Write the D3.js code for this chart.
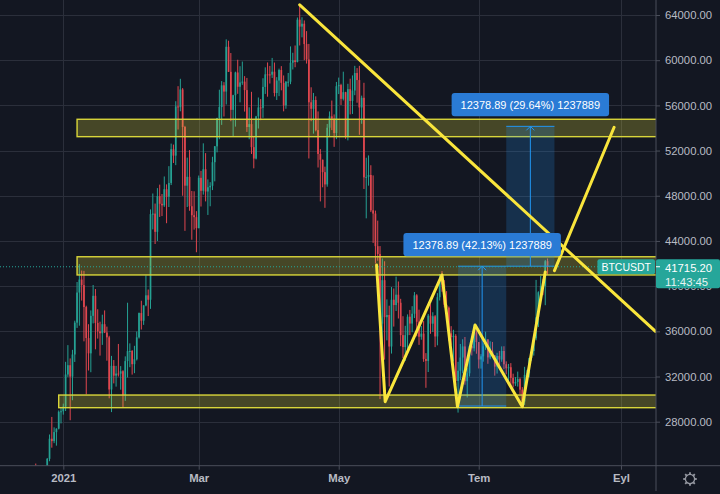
<!DOCTYPE html>
<html>
<head>
<meta charset="utf-8">
<script src="https://cdn.jsdelivr.net/npm/d3@7"></script>
<style>
  html, body { margin: 0; padding: 0; background: #131722; }
  svg { display: block; }
  text { font-family: "Liberation Sans", Arial, sans-serif; }
</style>
</head>
<body>
<svg id="chart" width="720" height="494"></svg>
<script>
// ---- BTCUSDT daily candles, 2020-12-20 .. 2021-07-31 ----
const firstDay = "2020-12-20";

const opens = [
  23821, 23455, 22719, 23810, 23232, 23729, 24712, 26493, 26281, 27079, 27385, 28876,
  28924, 29332, 32178, 33000, 31988, 33949, 36769, 39432, 40582, 40088, 38150, 35404, 34051, 37371, 39144, 36742, 35994, 35828, 36631, 35891, 35468, 30850, 32945, 32078, 32259, 32254, 32467, 30366, 33364, 34252, 34262,
  33092, 33526, 35466, 37618, 36936, 38290, 39186, 38795, 46374, 46420, 44807, 47969, 47287, 47153, 48577, 47911, 49133, 52119, 51552, 55906, 55841, 57409, 54087, 48891, 49676, 47073, 46277, 46106,
  45135, 49587, 48440, 50349, 48374, 48751, 48882, 50971, 52375, 54884, 55851, 57773, 57221, 61188, 58968, 55605, 56900, 58912, 57648, 58030, 58102, 57351, 54083, 54340, 52303, 51293, 55025, 55817, 55777, 57635, 58746,
  58740, 58720, 58981, 57095, 58202, 59129, 57991, 56000, 58088, 58094, 59778, 59985, 59839, 63588, 62971, 63229, 61427, 60059, 56274, 55696, 56474, 53807, 51701, 51187, 50089, 49004, 54021, 55033, 54824, 53555,
  57697, 57797, 56578, 57169, 53200, 57436, 56393, 57314, 58862, 58240, 55816, 56670, 49631, 49670, 49841, 46708, 46426, 43538, 42849, 36671, 40527, 37252, 37449, 34655, 38796, 38324, 39241, 38529, 35663, 34606, 35658,
  37294, 36687, 37555, 39187, 36851, 35520, 35796, 33552, 33380, 37388, 36675, 37331, 35546, 39020, 40516, 40144, 38349, 38092, 35820, 35483, 35600, 31608, 32509, 33679, 34663, 31584, 32283, 34700, 34494, 35911,
  35045, 33504, 33787, 34669, 35287, 33690, 34220, 33863, 32875, 33815, 33502, 34259, 33086, 32730, 32820, 31880, 31384, 31521, 31778, 30839, 29790, 32145, 32288, 33634, 34259, 35382, 37250, 39457, 40019, 40016, 42206
];

const highs = [
  24295, 24102, 23837, 24100, 23794, 24789, 26867, 28422, 27500, 27410, 28996, 29300,
  29600, 33300, 34778, 33600, 34360, 36939, 40365, 41950, 41380, 41350, 38264, 36628, 37850, 40100, 39747, 37950, 36852, 37469, 37850, 36415, 35600, 33826, 33456, 32944, 34880, 32921, 32557, 33783, 38531, 34933, 34342,
  34717, 35984, 37662, 38708, 38310, 40955, 39700, 46794, 48200, 47310, 48678, 48985, 48150, 49707, 49010, 50620, 52618, 52530, 56368, 57700, 58352, 57533, 54183, 51374, 52040, 48424, 48395, 46638,
  49790, 50200, 52640, 51773, 49448, 49200, 51450, 52402, 54900, 57387, 58150, 58058, 61844, 61724, 60633, 56938, 58982, 60040, 59468, 59880, 58589, 58430, 55830, 57200, 53230, 55073, 56700, 56559, 58400, 59368, 59800,
  59490, 60200, 59791, 58500, 59251, 59474, 58650, 58153, 58869, 61220, 60658, 61300, 63777, 64854, 63800, 63520, 62572, 61440, 57600, 57100, 56800, 55466, 52130, 51200, 50576, 54356, 55460, 56428, 55200, 58075,
  58458, 57911, 58981, 57200, 57911, 58360, 58650, 59500, 59300, 59500, 56862, 58000, 51367, 51569, 50700, 49800, 46686, 45800, 43546, 42451, 42200, 38829, 38270, 39920, 39791, 40841, 40411, 38877, 37338, 36488, 37499,
  37894, 38225, 39476, 39289, 37917, 36480, 36900, 34069, 37534, 38400, 37690, 37437, 39380, 41064, 41330, 40528, 39559, 38200, 36457, 36137, 35750, 33298, 34881, 35298, 35500, 32730, 34749, 35297, 36600, 36100,
  35057, 33977, 34951, 35967, 35293, 35118, 35059, 33909, 34100, 34262, 34666, 34679, 33340, 33114, 33185, 32250, 31950, 32435, 31899, 31063, 32858, 32591, 33650, 34500, 35398, 40550, 39542, 40900, 40640, 42316, 42448
];

const lows = [
  23060, 21815, 22353, 22600, 22703, 23400, 24500, 25700, 26101, 25880, 27320, 27850,
  28625, 28947, 31963, 28130, 29900, 33288, 36300, 36500, 38720, 35111, 30420, 32531, 32380, 36701, 34408, 35357, 33850, 34800, 35844, 33400, 30071, 28850, 31390, 31106, 32000, 30837, 29241, 29842, 31915, 32825, 32171,
  32296, 33418, 35362, 36161, 36570, 38216, 37351, 37988, 45020, 43727, 43994, 46125, 46202, 47014, 45570, 47003, 48947, 50901, 50710, 53863, 55477, 48000, 44892, 47003, 46674, 44106, 45000, 43000,
  45115, 47047, 48100, 47500, 46300, 47070, 48500, 49274, 51841, 53005, 54272, 55013, 56078, 58966, 54600, 53271, 54120, 57023, 56270, 57820, 55450, 53650, 53000, 51700, 50427, 51214, 53950, 54691, 54900, 57013, 56769,
  57935, 58428, 56789, 56478, 56817, 57333, 55473, 55700, 57654, 57877, 59177, 59374, 59805, 61301, 62021, 60000, 59700, 51300, 54600, 53500, 53700, 50500, 47500, 48750, 46930, 48800, 53222, 53813, 52330, 53012,
  57000, 56035, 56435, 53046, 52900, 55200, 55241, 56900, 56235, 53400, 54370, 48600, 46000, 48895, 46555, 43825, 42001, 42250, 30000, 34850, 33488, 35200, 31111, 34031, 36419, 37800, 37134, 34684, 33632, 33379, 34153,
  35667, 35920, 37171, 35555, 34800, 35257, 33300, 31000, 32396, 35782, 35944, 34601, 34758, 38731, 39506, 38116, 37365, 35129, 34803, 33336, 31251, 28805, 31683, 32286, 31275, 30151, 32000, 33862, 34225, 34017,
  32711, 32699, 33316, 34357, 33125, 33532, 33777, 32077, 32261, 33004, 33306, 32658, 32202, 31550, 31133, 31020, 31164, 31108, 30407, 29278, 29482, 31708, 31925, 33401, 33851, 35206, 36383, 38772, 39200, 38313, 41000
];

const closes = [
  23455, 22719, 23810, 23232, 23729, 24712, 26493, 26281, 27079, 27385, 28876, 28924,
  29332, 32178, 33000, 31988, 33949, 36769, 39432, 40582, 40088, 38150, 35404, 34051, 37371, 39144, 36742, 35994, 35828, 36631, 35891, 35468, 30850, 32945, 32078, 32259, 32254, 32467, 30366, 33364, 34252, 34262, 33092,
  33526, 35466, 37618, 36936, 38290, 39186, 38795, 46374, 46420, 44807, 47969, 47287, 47153, 48577, 47911, 49133, 52119, 51552, 55906, 55841, 57409, 54087, 48891, 49676, 47073, 46277, 46106, 45135,
  49587, 48440, 50349, 48374, 48751, 48882, 50971, 52375, 54884, 55851, 57773, 57221, 61188, 58968, 55605, 56900, 58912, 57648, 58030, 58102, 57351, 54083, 54340, 52303, 51293, 55025, 55817, 55777, 57635, 58746, 58740,
  58720, 58981, 57095, 58202, 59129, 57991, 56000, 58088, 58094, 59778, 59985, 59839, 63588, 62971, 63229, 61427, 60059, 56274, 55696, 56474, 53807, 51701, 51187, 50089, 49004, 54021, 55033, 54824, 53555, 57697,
  57797, 56578, 57169, 53200, 57436, 56393, 57314, 58862, 58240, 55816, 56670, 49631, 49670, 49841, 46708, 46426, 43538, 42849, 36671, 40527, 37252, 37449, 34655, 38796, 38324, 39241, 38529, 35663, 34606, 35658, 37294,
  36687, 37555, 39187, 36851, 35520, 35796, 33552, 33380, 37388, 36675, 37331, 35546, 39020, 40516, 40144, 38349, 38092, 35820, 35483, 35600, 31608, 32509, 33679, 34663, 31584, 32283, 34700, 34494, 35911, 35045,
  33504, 33787, 34669, 35287, 33690, 34220, 33863, 32875, 33815, 33502, 34259, 33086, 32730, 32820, 31880, 31384, 31521, 31778, 30839, 29790, 32145, 32288, 33634, 34259, 35382, 37250, 39457, 40019, 40016, 42206, 41715.20
];

// ---- axis ticks ----
const priceTicks = [28000, 32000, 36000, 40000, 44000, 48000, 52000, 56000, 60000, 64000];
const timeTickDates = ["2021-01-01", "2021-03-01", "2021-05-01", "2021-07-01", "2021-09-01"];
const timeTickLabels = ["2021", "Mar", "May", "Tem", "Eyl"];

// ---- support / resistance zones ----
const zoneFrom = ["2021-01-07", "2021-01-07", "2020-12-30"];
const zoneTo   = ["2021-10-31", "2021-10-31", "2021-10-31"];
const zoneLow  = [53230, 40990, 29240];
const zoneHigh = [54770, 42600, 30360];

// ---- trend lines ----
const trendDownDates  = ["2021-04-14", "2021-09-16"];
const trendDownPrices = [64900, 36000];
const zigzagDates  = ["2021-05-17T12:00Z", "2021-05-21T06:00Z", "2021-06-15", "2021-06-21T18:00Z", "2021-06-29T10:00Z", "2021-07-20", "2021-07-30"];
const zigzagPrices = [41870, 29770, 40990, 29330, 36560, 29330, 41250];
const breakoutDates  = ["2021-08-03", "2021-08-29"];
const breakoutPrices = [41370, 54060];

// ---- price range measurements ----
const rangeStart = ["2021-06-22", "2021-07-13"];
const rangeEnd   = ["2021-07-13", "2021-08-03"];
const rangeFrom  = [29385.22, 41764.11];
const rangeTo    = [41764.11, 54143.00];

// ---- last price ----
const symbol = "BTCUSDT";
const lastPrice = 41715.20;
const countdown = "11:43:45";

// ---- layout ----
const W = 720, H = 494;
const plotRight = 656, plotBottom = 465.7;
const C = {
  bg: "#131722", grid: "#2b2f3b", axis: "#4a4e5a", text: "#b8bbc4",
  up: "#25a193", down: "#e0474f",
  zoneFill: "rgba(235,225,60,0.24)", zoneStroke: "#d9d63a",
  yellow: "#f9e53c",
  rangeFill: "rgba(33,150,243,0.2)", rangeLine: "#2196f3", rangeLabel: "#2a7bd5",
  last: "#26a69a"
};

const parseT = s => new Date(s.length === 10 ? s + "T00:00:00Z" : s);

const x = d3.scaleUtc()
  .domain([parseT("2021-01-01"), parseT("2021-09-01")])
  .range([63.3, 621]);
const y = d3.scaleLinear()
  .domain([28000, 64000])
  .range([421.7, 15]);

const start = parseT(firstDay);
const candles = closes.map((c, i) => ({
  date: d3.utcDay.offset(start, i), o: opens[i], h: highs[i], l: lows[i], c: c
}));

const svg = d3.select("#chart");
svg.append("defs").append("clipPath").attr("id", "plot")
  .append("rect").attr("x", 0).attr("y", 0).attr("width", plotRight).attr("height", plotBottom);

svg.append("rect").attr("width", W).attr("height", H).attr("fill", C.bg);

// grid
const grid = svg.append("g").attr("shape-rendering", "crispEdges");
grid.selectAll("line.v").data(timeTickDates).join("line")
  .attr("x1", d => Math.round(x(parseT(d))) + 0.5).attr("x2", d => Math.round(x(parseT(d))) + 0.5)
  .attr("y1", 0).attr("y2", plotBottom)
  .attr("stroke", C.grid);
grid.selectAll("line.h").data(priceTicks).join("line")
  .attr("x1", 0).attr("x2", plotRight)
  .attr("y1", d => Math.round(y(d)) + 0.5).attr("y2", d => Math.round(y(d)) + 0.5)
  .attr("stroke", C.grid);

const plot = svg.append("g").attr("clip-path", "url(#plot)");

// candles
const bodyW = 1.7;
const col = d => d.c >= d.o ? C.up : C.down;
plot.append("g").selectAll("line").data(candles).join("line")
  .attr("x1", d => x(d.date)).attr("x2", d => x(d.date))
  .attr("y1", d => y(d.h)).attr("y2", d => y(d.l))
  .attr("stroke", col).attr("stroke-width", 1);
plot.append("g").selectAll("rect").data(candles).join("rect")
  .attr("x", d => x(d.date) - bodyW / 2).attr("width", bodyW)
  .attr("y", d => y(Math.max(d.o, d.c)))
  .attr("height", d => Math.max(1, Math.abs(y(d.o) - y(d.c))))
  .attr("fill", col);

// zones
const zones = zoneFrom.map((f, i) => ({ f: parseT(f), t: parseT(zoneTo[i]), lo: zoneLow[i], hi: zoneHigh[i] }));
plot.append("g").selectAll("rect").data(zones).join("rect")
  .attr("x", d => x(d.f)).attr("width", d => x(d.t) - x(d.f))
  .attr("y", d => y(d.hi)).attr("height", d => y(d.lo) - y(d.hi))
  .attr("fill", C.zoneFill).attr("stroke", C.zoneStroke).attr("stroke-width", 1.4);

// price range measurements
const ranges = rangeStart.map((s, i) => ({
  x0: x(parseT(s)), x1: x(parseT(rangeEnd[i])), from: rangeFrom[i], to: rangeTo[i]
}));
const rg = plot.append("g");
ranges.forEach(r => {
  const yt = y(r.to), yb = y(r.from), cx = (r.x0 + r.x1) / 2;
  rg.append("rect").attr("x", r.x0).attr("width", r.x1 - r.x0)
    .attr("y", yt).attr("height", yb - yt).attr("fill", C.rangeFill);
  [yt, yb].forEach(yy => rg.append("line")
    .attr("x1", r.x0).attr("x2", r.x1).attr("y1", yy).attr("y2", yy)
    .attr("stroke", C.rangeLine).attr("stroke-width", 1));
  rg.append("line").attr("x1", cx).attr("x2", cx).attr("y1", yb).attr("y2", yt)
    .attr("stroke", C.rangeLine).attr("stroke-width", 1);
  rg.append("path").attr("d", `M${cx - 4},${yt + 4}L${cx},${yt}L${cx + 4},${yt + 4}`)
    .attr("fill", "none").attr("stroke", C.rangeLine).attr("stroke-width", 1);
});

// last price line
plot.append("line").attr("x1", 0).attr("x2", plotRight)
  .attr("y1", y(lastPrice)).attr("y2", y(lastPrice))
  .attr("stroke", C.last).attr("stroke-width", 1).attr("stroke-dasharray", "1,2");

// range labels
const lg = svg.append("g");
ranges.forEach(r => {
  const diff = r.to - r.from;
  const label = `${diff.toFixed(2)} (${(diff / r.from * 100).toFixed(2)}%) ${Math.round(diff * 100)}`;
  const cx = (r.x0 + r.x1) / 2, yt = y(r.to);
  const g = lg.append("g");
  const rect = g.append("rect").attr("fill", C.rangeLabel).attr("rx", 3);
  const t = g.append("text").attr("x", cx).attr("y", yt - 21.5)
    .attr("text-anchor", "middle").attr("dominant-baseline", "central")
    .attr("fill", "#ffffff").attr("font-size", 11).text(label);
  const w = t.node().getComputedTextLength() + 18;
  rect.attr("x", cx - w / 2).attr("width", w).attr("y", yt - 33.3).attr("height", 23.3);
});

// yellow trend lines
const line = d3.line().x(d => x(parseT(d[0]))).y(d => y(d[1]));
const yl = plot.append("g").attr("fill", "none").attr("stroke", C.yellow)
  .attr("stroke-width", 3).attr("stroke-linecap", "round").attr("stroke-linejoin", "round");
yl.append("path").attr("d", line(d3.zip(trendDownDates, trendDownPrices)));
yl.append("path").attr("d", line(d3.zip(zigzagDates, zigzagPrices)));
yl.append("path").attr("d", line(d3.zip(breakoutDates, breakoutPrices)));

// axes
const axisG = svg.append("g");
const yAxis = d3.axisRight(y).tickValues(priceTicks).tickFormat(d => d.toFixed(2))
  .tickSize(4).tickPadding(5);
const ya = axisG.append("g").attr("transform", `translate(${plotRight},0)`).call(yAxis);
ya.select(".domain").remove();
ya.selectAll("line").attr("stroke", C.axis);
ya.selectAll("text").attr("fill", C.text).attr("font-size", 11.3).attr("font-family", null);

const xAxis = d3.axisBottom(x).tickValues(timeTickDates.map(parseT))
  .tickFormat((d, i) => timeTickLabels[i]).tickSize(4).tickPadding(4.5);
const xa = axisG.append("g").attr("transform", `translate(0,${plotBottom})`).call(xAxis);
xa.select(".domain").remove();
xa.selectAll("line").attr("stroke", C.axis);
xa.selectAll("text").attr("fill", C.text).attr("font-size", 11.3).attr("font-family", null)
  .attr("font-weight", (d, i) => i === 0 ? 700 : 600);

axisG.append("line").attr("x1", 0).attr("x2", W).attr("y1", plotBottom).attr("y2", plotBottom)
  .attr("stroke", C.axis).attr("stroke-width", 1);
axisG.append("line").attr("x1", plotRight).attr("x2", plotRight).attr("y1", 0).attr("y2", 491)
  .attr("stroke", C.axis).attr("stroke-width", 1);

// symbol tag on the chart and last-price tag on the scale
const ly = y(lastPrice);
const tag = svg.append("g");
const symText = tag.append("text").attr("y", ly).attr("dominant-baseline", "central")
  .attr("fill", "#ffffff").attr("font-size", 10.5).text(symbol);
const sw = symText.node().getComputedTextLength() + 8;
tag.insert("rect", "text").attr("x", plotRight - 1 - sw).attr("width", sw)
  .attr("y", ly - 7.5).attr("height", 15).attr("rx", 2).attr("fill", C.last);
symText.attr("x", plotRight - 1 - sw / 2).attr("text-anchor", "middle");

tag.append("rect").attr("x", plotRight).attr("width", W - plotRight)
  .attr("y", ly - 7.5).attr("height", 29).attr("rx", 2).attr("fill", C.last);
tag.append("line").attr("x1", plotRight).attr("x2", plotRight + 4).attr("y1", ly).attr("y2", ly)
  .attr("stroke", "#ffffff").attr("stroke-width", 1);
tag.append("text").attr("x", 665).attr("y", ly + 1.5).attr("dominant-baseline", "central")
  .attr("fill", "#ffffff").attr("font-size", 11.3).text(lastPrice.toFixed(2));
tag.append("text").attr("x", 665).attr("y", ly + 15).attr("dominant-baseline", "central")
  .attr("fill", "#e6f4f2").attr("font-size", 11.3).text(countdown);

// settings gear in the corner
const gear = svg.append("g").attr("transform", "translate(690,479)")
  .attr("stroke", "#9598a1").attr("fill", "none");
gear.append("circle").attr("r", 4.6).attr("stroke-width", 1.3);
d3.range(8).forEach(k => {
  const a = k * Math.PI / 4;
  gear.append("line")
    .attr("x1", Math.cos(a) * 4.6).attr("y1", Math.sin(a) * 4.6)
    .attr("x2", Math.cos(a) * 6.8).attr("y2", Math.sin(a) * 6.8)
    .attr("stroke-width", 1.8);
});
</script>
</body>
</html>
